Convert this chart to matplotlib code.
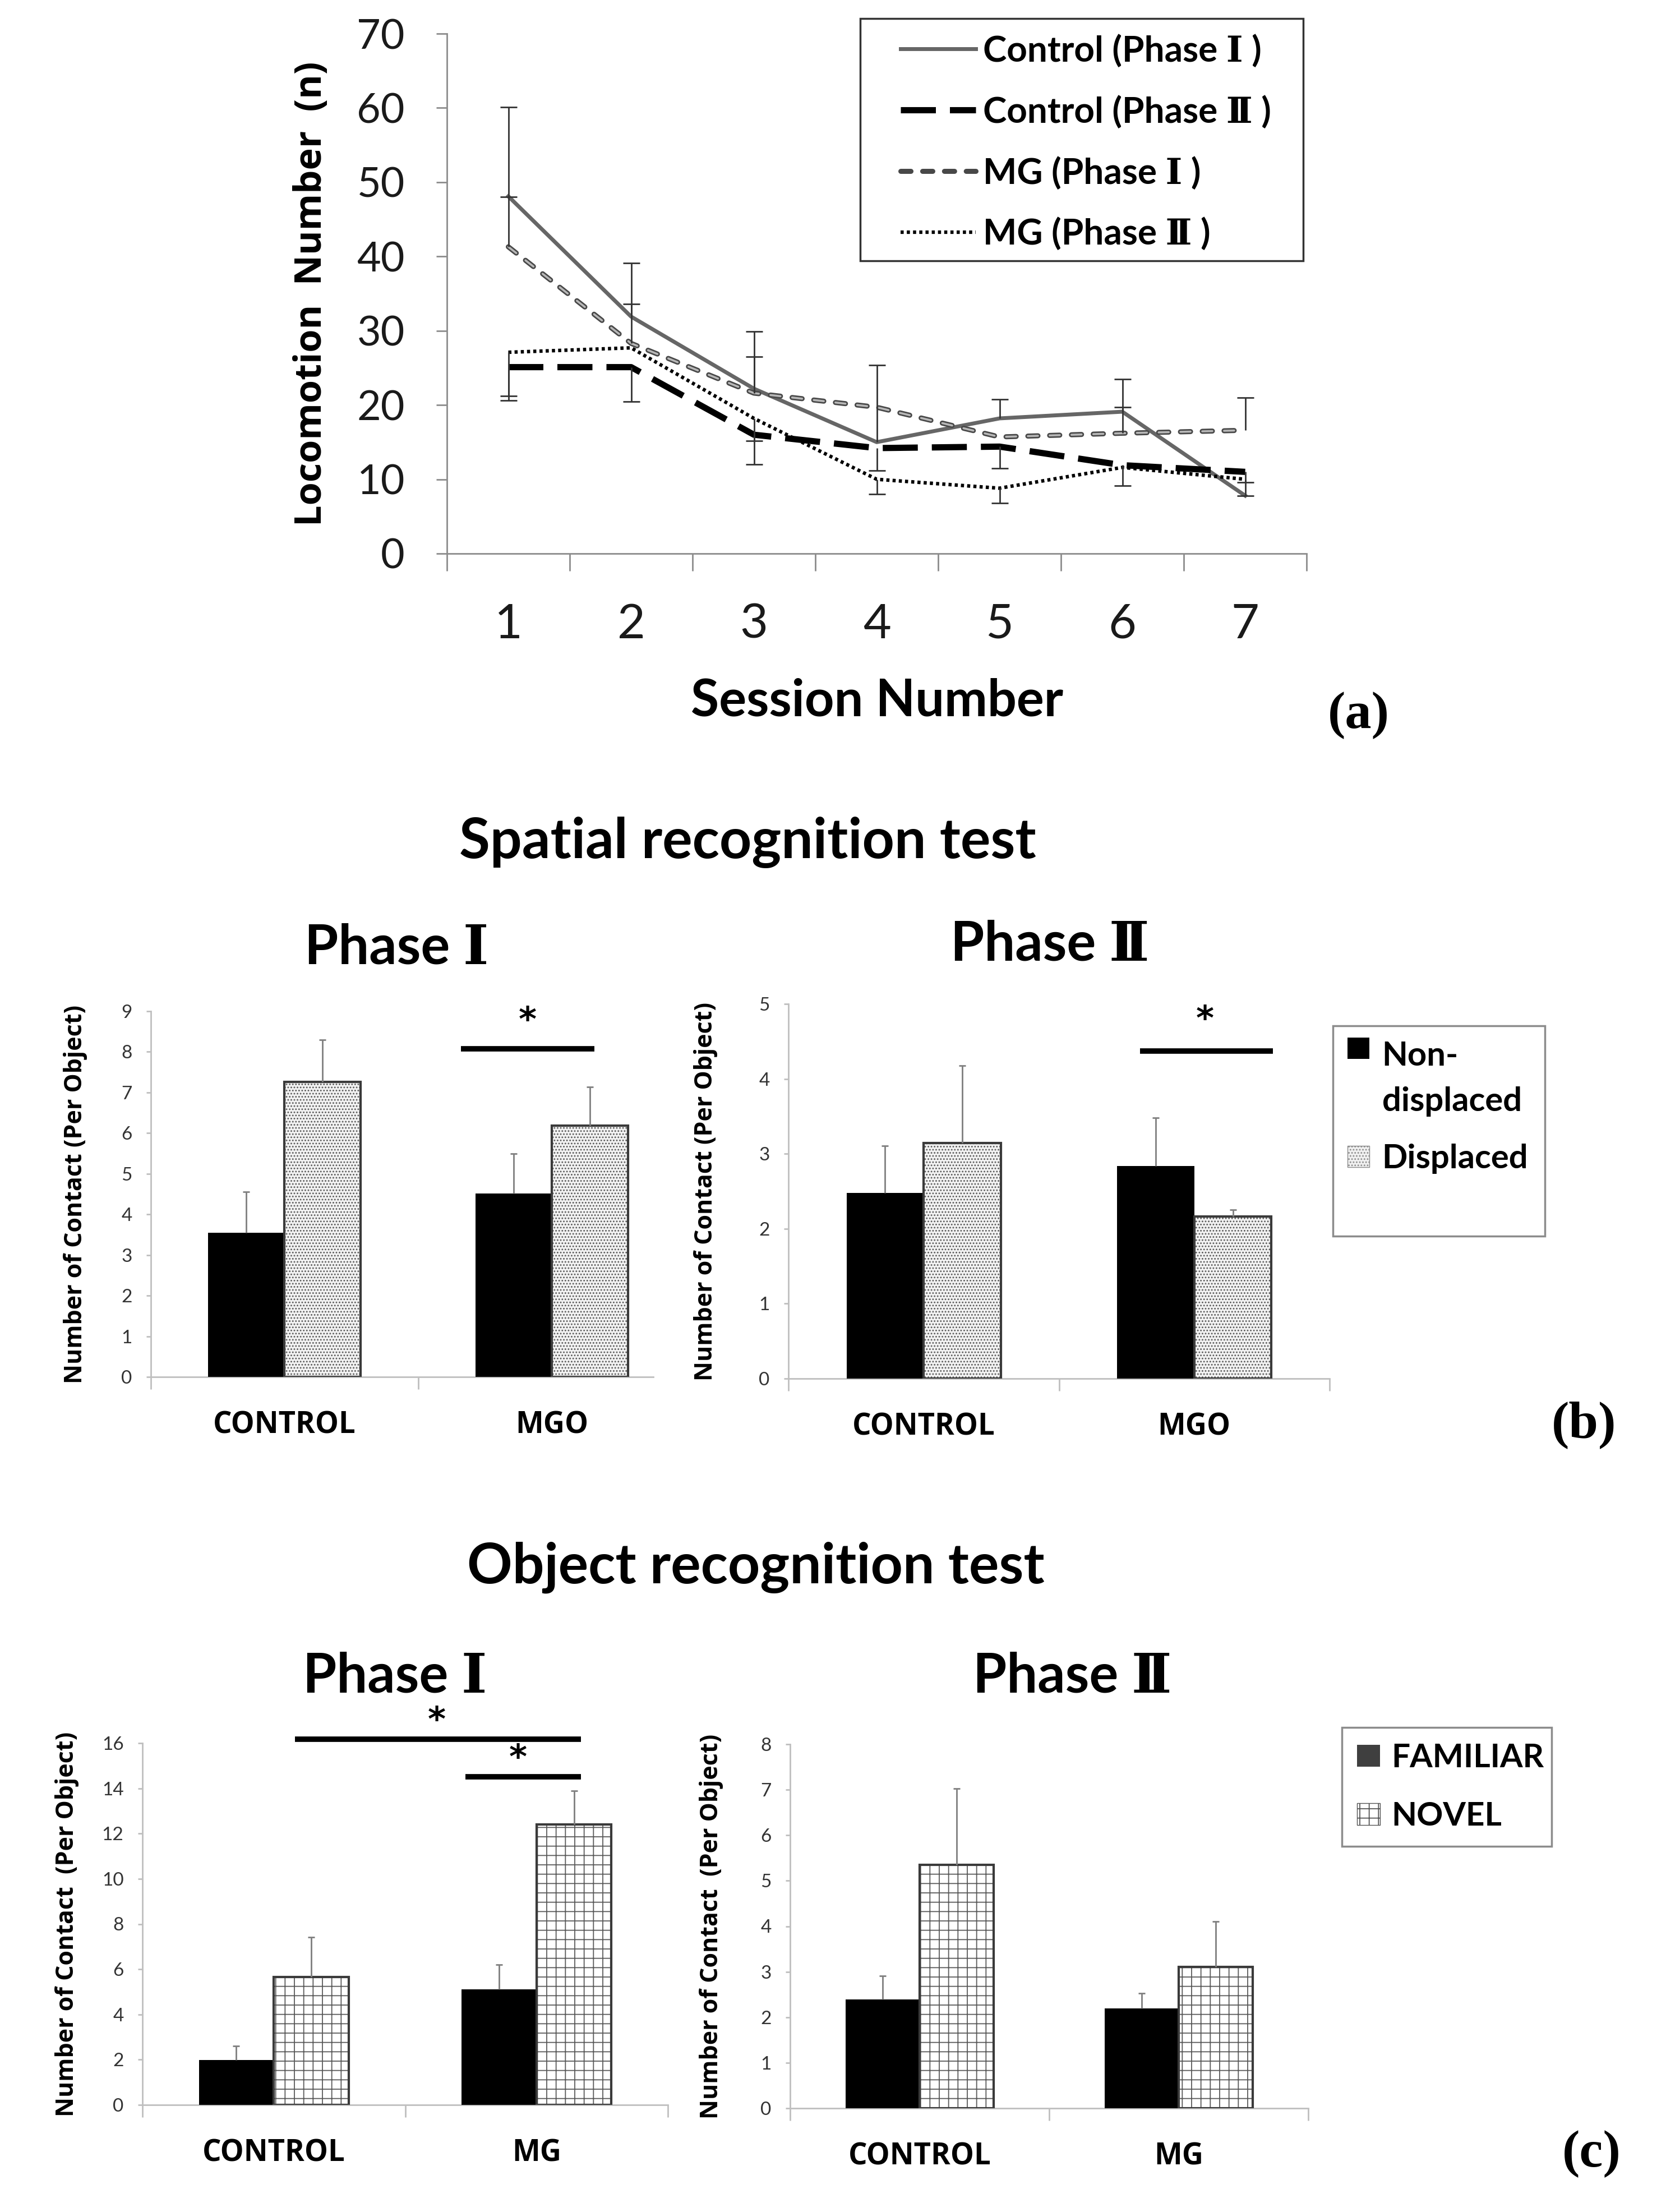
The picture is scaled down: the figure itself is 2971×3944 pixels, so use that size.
import numpy as np
import matplotlib
matplotlib.use("Agg")
import matplotlib.pyplot as plt
import matplotlib.patches as mpatches
from matplotlib.legend_handler import HandlerPatch

# Lato has no Roman numeral glyphs, so Ⅰ/Ⅱ fall back to the serif face as in the original
plt.rcParams['font.family'] = ['Lato', 'DejaVu Serif']
plt.rcParams['lines.scale_dashes'] = False
plt.rcParams['hatch.linewidth'] = 1.3

W, H = 2971, 3944

# (a) locomotion per session
sessions = [1, 2, 3, 4, 5, 6, 7]
ctrl1 = [48.1, 31.9, 22.2, 15.0, 18.2, 19.1, 7.8]
ctrl1_up = [12.0, 7.2, 7.7, 10.4, 2.6, 4.4, 0.0]
ctrl2 = [25.1, 25.1, 16.0, 14.2, 14.4, 11.9, 11.0]
ctrl2_dn = [4.5, 4.6, 4.0, 3.0, 2.9, 2.8, 1.4]
mg1 = [41.3, 28.3, 21.6, 19.7, 15.7, 16.2, 16.6]
mg1_up = [6.7, 5.3, 4.9, 0.0, 0.0, 3.5, 4.4]
mg2 = [27.1, 27.7, 18.2, 10.0, 8.8, 11.6, 10.0]
mg2_dn = [5.9, 0.0, 3.0, 2.0, 2.0, 0.0, 2.2]
line_labels = ["Control (Phase Ⅰ )", "Control (Phase Ⅱ )", "MG (Phase Ⅰ )", "MG (Phase Ⅱ )"]

# (b) spatial recognition
b_groups = ["CONTROL", "MGO"]
b1_nondisp = [3.55, 4.52]
b1_nondisp_err = [1.01, 0.98]
b1_disp = [7.26, 6.19]
b1_disp_err = [1.04, 0.94]
b2_nondisp = [2.48, 2.84]
b2_nondisp_err = [0.63, 0.64]
b2_disp = [3.14, 2.16]
b2_disp_err = [1.04, 0.09]
b_labels = ["Non-\ndisplaced", "Displaced"]

# (c) object recognition
c_groups = ["CONTROL", "MG"]
c1_fam = [1.98, 5.10]
c1_fam_err = [0.62, 1.10]
c1_nov = [5.65, 12.40]
c1_nov_err = [1.77, 1.50]
c2_fam = [2.39, 2.20]
c2_fam_err = [0.52, 0.33]
c2_nov = [5.35, 3.11]
c2_nov_err = [1.68, 1.00]
c_labels = ["FAMILIAR", "NOVEL"]

# significance bars: (x start, x end, y, star x, star y)
b1_sig = [(0.66, 1.16, 8.07, 0.91, 8.75)]
b2_sig = [(0.80, 1.29, 4.37, 1.04, 4.78)]
c1_sig = [(0.08, 1.17, 16.17, 0.62, 16.95), (0.73, 1.17, 14.5, 0.93, 15.3)]

fig = plt.figure(figsize=(W / 100, H / 100), dpi=100)


def box(x0, y0, x1, y1):
    return [x0 / W, 1 - y1 / H, (x1 - x0) / W, (y1 - y0) / H]


def err_bars(ax, x, y, lo, hi, color, lw, cap):
    x, y, lo, hi = map(np.asarray, (x, y, lo, hi))
    for xi, yi, l, h in zip(x, y, lo, hi):
        if l <= 0 and h <= 0:
            continue
        ax.vlines(xi, yi - l, yi + h, color=color, lw=lw, zorder=6)
        ends = [v for v, e in ((yi - l, l), (yi + h, h)) if e > 0]
        ax.plot([xi] * len(ends), ends, '_', color=color, ms=cap, mew=lw, zorder=6)


# ---------------- (a) ----------------
ax = fig.add_axes(box(797, 60, 2330, 987))
x = np.array(sessions)
l1, = ax.plot(x, ctrl1, color='#666666', lw=5, zorder=3)
l2, = ax.plot(x, ctrl2, color='black', lw=8, linestyle=(0, (45, 18)), zorder=4)
l3, = ax.plot(x, mg1, color='#484848', lw=6.5, linestyle=(0, (13, 15)),
              dash_capstyle='round', zorder=3)
ax.plot(x, mg1, color='#b8b8b8', lw=2.6, linestyle=(0, (13, 15)), dash_capstyle='round', zorder=3.1)
l4, = ax.plot(x, mg2, color='black', lw=4.5, linestyle=(0, (4, 4)), zorder=4)
zeros = [0] * 7
for yv, lo, hi in ((ctrl1, zeros, ctrl1_up), (mg1, zeros, mg1_up),
                   (ctrl2, ctrl2_dn, zeros), (mg2, mg2_dn, zeros)):
    err_bars(ax, x, yv, lo, hi, '#333333', 2, 22)

ax.set_xlim(0.5, 7.5)
ax.set_ylim(0, 70)
ax.set_yticks(range(0, 71, 10))
ax.set_xticks(sessions)
ax.set_xticks(np.arange(0.5, 8, 1), minor=True)
for s in ('top', 'right'):
    ax.spines[s].set_visible(False)
for s in ('left', 'bottom'):
    ax.spines[s].set_color('#8c8c8c')
    ax.spines[s].set_linewidth(2)
ax.tick_params(axis='x', which='major', length=0, pad=63, labelsize=62, labelcolor='#1a1a1a')
ax.tick_params(axis='x', which='minor', length=22, width=2, color='#8c8c8c', direction='out')
ax.tick_params(axis='y', length=14, width=2, color='#8c8c8c', direction='out', pad=40,
               labelsize=53, labelcolor='#1a1a1a')
ax.set_xlabel("Session Number", fontsize=66, fontweight='bold', labelpad=40)
ax.set_ylabel("Locomotion  Number  (n)", fontsize=48, fontweight='bold', family='Open Sans')
ax.yaxis.set_label_coords(-0.136, 0.5)

leg = ax.legend([l1, l2, l3, l4], line_labels, loc='upper left',
                bbox_to_anchor=(1606 / W, 1 - 60 / H), bbox_transform=fig.transFigure,
                frameon=False, fontsize=46, handlelength=2.1, handletextpad=0.2,
                labelspacing=0.77, borderpad=0, borderaxespad=0)
for t in leg.get_texts():
    t.set_fontweight('bold')
fig.add_artist(mpatches.Rectangle((1534 / W, 1 - 465 / H), (2324 - 1534) / W, (465 - 33) / H,
                                  transform=fig.transFigure, fill=False, ec='#333333', lw=2.5))
fig.text(2423 / W, 1 - 1276 / H, "(a)", family='Liberation Serif', fontweight='bold',
         fontsize=68, ha='center', va='center')


# ---------------- bar panels ----------------
def raised_box(legend, orig_handle, xdescent, ydescent, width, height, fontsize):
    return mpatches.Rectangle((-xdescent, -ydescent + fontsize * 0.93), width, height)


def bar_panel(rect, groups, v1, e1, v2, e2, hatch, face2, ymax, ystep, xmax, ylab, sigs):
    ax = fig.add_axes(box(*rect))
    w = 0.285
    xs = np.arange(len(groups))
    ax.bar(xs - w / 2, v1, w, color='black', zorder=3)
    ax.bar(xs + w / 2, v2, w, facecolor=face2, hatch=hatch, edgecolor='#5a5a5a', linewidth=0, zorder=3)
    ax.bar(xs + w / 2, v2, w, fill=False, edgecolor='#3a3a3a', linewidth=3, zorder=4)
    err_bars(ax, xs - w / 2, v1, [0] * len(v1), e1, '#7f7f7f', 2, 8)
    err_bars(ax, xs + w / 2, v2, [0] * len(v2), e2, '#7f7f7f', 2, 8)
    for x0, x1, y, sx, sy in sigs:
        ax.plot([x0, x1], [y, y], color='black', lw=7, solid_capstyle='butt', clip_on=False, zorder=7)
        ax.text(sx, sy, '*', ha='center', va='center', fontsize=44, fontweight='bold',
                family='DejaVu Sans', clip_on=False)
    ax.set_xlim(-0.5, xmax)
    ax.set_ylim(0, ymax)
    ax.set_yticks(np.arange(0, ymax + 0.1, ystep))
    ax.set_xticks(xs)
    ax.set_xticklabels(groups)
    ax.set_xticks([-0.5, 0.5, 1.5][: 3 if xmax >= 1.5 else 2], minor=True)
    for s in ('top', 'right'):
        ax.spines[s].set_visible(False)
    for s in ('left', 'bottom'):
        ax.spines[s].set_color('#bfbfbf')
        ax.spines[s].set_linewidth(2)
    ax.tick_params(axis='x', which='major', length=0, pad=43)
    ax.tick_params(axis='x', which='minor', length=16, width=2, color='#bfbfbf', direction='out')
    ax.tick_params(axis='y', length=6, width=2, color='#bfbfbf', direction='out', pad=18,
                   labelsize=24, labelcolor='#333333')
    for t in ax.get_xticklabels():
        t.set_family('Open Sans')
        t.set_fontweight('bold')
        t.set_fontsize(38)
    ax.set_ylabel(ylab, family='Open Sans', fontweight='bold', fontsize=31)
    return ax


axb1 = bar_panel((269, 1803, 1165, 2455), b_groups, b1_nondisp, b1_nondisp_err, b1_disp, b1_disp_err,
                 '...', '#f2f2f2', 9, 1, 1.38, "Number of Contact (Per Object)", b1_sig)
axb1.yaxis.set_label_coords(-0.126, 0.5)
axb2 = bar_panel((1406, 1790, 2371, 2458), b_groups, b2_nondisp, b2_nondisp_err, b2_disp, b2_disp_err,
                 '...', '#f2f2f2', 5, 1, 1.5, "Number of Contact (Per Object)", b2_sig)
axb2.yaxis.set_label_coords(-0.131, 0.5)

hb = [mpatches.Patch(facecolor='black'),
      mpatches.Patch(facecolor='#f0f0f0', hatch='...', edgecolor='#8c8c8c', linewidth=1)]
legb = axb2.legend(hb, b_labels, loc='upper left', bbox_to_anchor=(2403 / W, 1 - 1856 / H),
                   bbox_transform=fig.transFigure, frameon=False, fontsize=43, handlelength=0.65,
                   handleheight=0.6, handletextpad=0.38, labelspacing=0.8, borderpad=0, borderaxespad=0,
                   handler_map={hb[0]: HandlerPatch(patch_func=raised_box)})
for t in legb.get_texts():
    t.set_linespacing(1.62)
    t.set_fontweight('bold')
fig.add_artist(mpatches.Rectangle((2377 / W, 1 - 2204 / H), (2755 - 2377) / W, (2204 - 1829) / H,
                                  transform=fig.transFigure, fill=False, ec='#8c8c8c', lw=2.5))

axc1 = bar_panel((254, 3108, 1191, 3753), c_groups, c1_fam, c1_fam_err, c1_nov, c1_nov_err,
                 '+', 'white', 16, 2, 1.5, "Number of Contact  (Per Object)", c1_sig)
axc1.yaxis.set_label_coords(-0.121, 0.5)
axc2 = bar_panel((1409, 3110, 2333, 3759), c_groups, c2_fam, c2_fam_err, c2_nov, c2_nov_err,
                 '+', 'white', 8, 1, 1.5, "Number of Contact  (Per Object)", [])
axc2.yaxis.set_label_coords(-0.129, 0.5)

hc = [mpatches.Patch(facecolor='#3f3f3f'),
      mpatches.Patch(facecolor='white', hatch='+', edgecolor='#555555', linewidth=1)]
legc = axc2.legend(hc, c_labels, loc='upper left', bbox_to_anchor=(2420 / W, 1 - 3108 / H),
                   bbox_transform=fig.transFigure, frameon=False, fontsize=42, handlelength=0.7,
                   handleheight=0.65, handletextpad=0.35, labelspacing=0.88, borderpad=0, borderaxespad=0)
for t in legc.get_texts():
    t.set_fontweight('bold')
fig.add_artist(mpatches.Rectangle((2393 / W, 1 - 3292 / H), (2767 - 2393) / W, (3292 - 3080) / H,
                                  transform=fig.transFigure, fill=False, ec='#8c8c8c', lw=2.5))

# titles and panel letters
fig.text(1333 / W, 1 - 1502 / H, "Spatial recognition test", fontsize=72, fontweight='bold',
         ha='center', va='center')
fig.text(707 / W, 1 - 1690 / H, "Phase Ⅰ", fontsize=70, fontweight='bold', ha='center', va='center')
fig.text(1872 / W, 1 - 1684 / H, "Phase Ⅱ", fontsize=70, fontweight='bold', ha='center', va='center')
fig.text(1348 / W, 1 - 2795 / H, "Object recognition test", fontsize=72, fontweight='bold',
         ha='center', va='center')
fig.text(704 / W, 1 - 2989 / H, "Phase Ⅰ", fontsize=70, fontweight='bold', ha='center', va='center')
fig.text(1912 / W, 1 - 2989 / H, "Phase Ⅱ", fontsize=70, fontweight='bold', ha='center', va='center')
fig.text(2825 / W, 1 - 2541 / H, "(b)", family='Liberation Serif', fontweight='bold',
         fontsize=68, ha='center', va='center')
fig.text(2838 / W, 1 - 3841 / H, "(c)", family='Liberation Serif', fontweight='bold',
         fontsize=68, ha='center', va='center')

fig.savefig("out.png", dpi=100, facecolor='white')
